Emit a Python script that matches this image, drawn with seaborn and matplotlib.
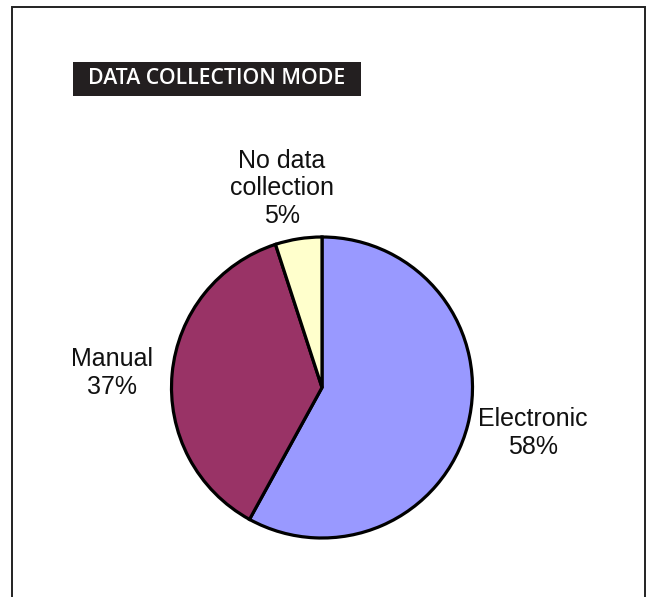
import matplotlib
matplotlib.use("Agg")
import matplotlib.pyplot as plt
import matplotlib.patches as mpatches
import matplotlib.transforms as mtransforms
import seaborn as sns

categories = ["Electronic", "Manual", "No data\ncollection"]
values = [58, 37, 5]
colors = ["#9999FF", "#993366", "#FFFFCC"]
title = "DATA COLLECTION MODE"

sns.set_theme(style="white")
plt.rcParams['font.family'] = ['Liberation Sans', 'DejaVu Sans']

W, H = 653, 597
fig = plt.figure(figsize=(W / 100, H / 100), dpi=100)
fig.patch.set_facecolor("white")

cx, cy, r = 322, 387.5, 150.5
ax = fig.add_axes([(cx - r) / W, (H - cy - r) / H, 2 * r / W, 2 * r / H])

palette = sns.color_palette(colors)
labels = [f"{c}\n{v}%" for c, v in zip(categories, values)]
wedges, texts = ax.pie(values, labels=labels, colors=palette, startangle=90,
                       counterclock=False, labeldistance=1.4,
                       wedgeprops=dict(edgecolor="black", linewidth=2.3),
                       textprops=dict(fontsize=18, color="#111111"))
# small label nudges (pixels: right, up) to mimic the original label placement
nudges = [(7, 7), (0, -5), (-7, -9)]
for t, (dx, dy) in zip(texts, nudges):
    t.set_ha("center")
    t.set_va("center")
    t.set_linespacing(1.2)
    t.set_transform(t.get_transform() + mtransforms.Affine2D().translate(dx, dy))
ax.set_xlim(-1, 1)
ax.set_ylim(-1, 1)
ax.set_aspect("equal")
ax.axis("off")

# outer frame (no bottom edge visible)
fig.add_artist(mpatches.Rectangle((12.5 / W, -0.05), (645 - 12.5) / W, (H - 6.5) / H + 0.05,
                                  transform=fig.transFigure, fill=False,
                                  edgecolor="#222222", linewidth=1.4))

# title box
bx0, bx1, by0, by1 = 73, 361, 62, 96
fig.add_artist(mpatches.Rectangle((bx0 / W, (H - by1) / H), (bx1 - bx0) / W, (by1 - by0) / H,
                                  transform=fig.transFigure, facecolor="#231f20",
                                  edgecolor="none"))
fig.text((bx0 + bx1) / 2 / W, (H - (by0 + by1) / 2) / H, title,
         ha="center", va="center", color="white", fontsize=15.3,
         fontfamily=["Open Sans", "DejaVu Sans"], fontweight="semibold")

fig.savefig("out.png", dpi=100, facecolor="white")
